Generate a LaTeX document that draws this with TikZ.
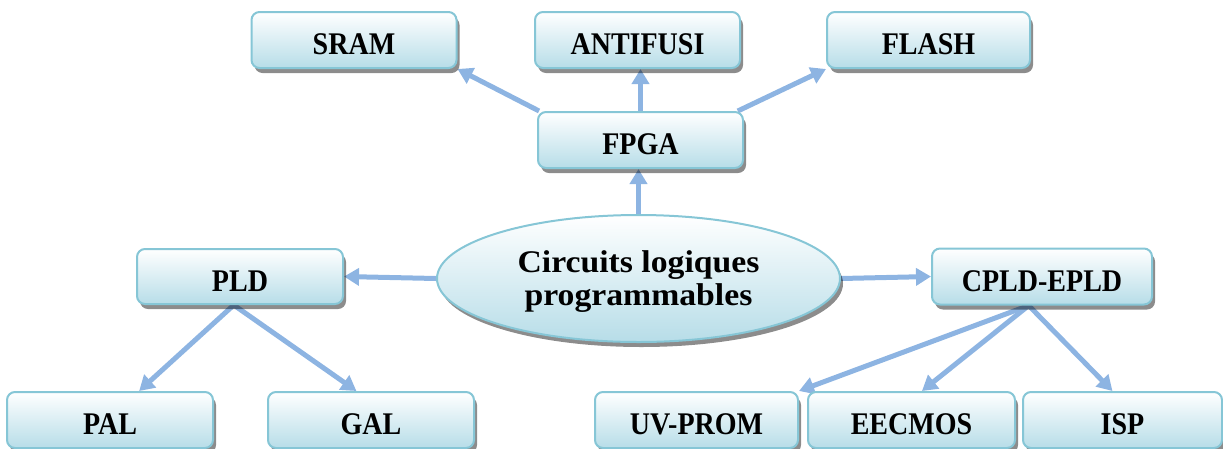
\documentclass[tikz,border=0pt]{standalone}
\usepackage{fontspec}
\setmainfont{Liberation Serif}
\newfontfamily\boxfont{Liberation Serif}[FakeStretch=0.89]
\newfontfamily\hubfont{Liberation Serif}[FakeStretch=1.07]
\usetikzlibrary{arrows.meta,shapes.geometric,shadows,calc,backgrounds}

\definecolor{edgeblue}{HTML}{8DB4E2}
\definecolor{rimblue}{HTML}{86C6D6}
\definecolor{fillblue}{HTML}{B7DDE8}

\begin{document}
\begin{tikzpicture}[x=1pt,y=-1pt,
  softshadow/.style={drop shadow={shadow xshift=3pt, shadow yshift=-5pt, fill=black, opacity=0.45}},
  card/.style={rectangle, rounded corners=8pt, draw=rimblue, line width=2pt,
    top color=white, bottom color=fillblue,
    minimum width=205pt, minimum height=56pt, inner sep=0pt,
    text height=29pt, text depth=0pt,
    font=\boxfont\bfseries\fontsize{31.5}{36}\selectfont, softshadow},
  hubshape/.style={ellipse, draw=rimblue, line width=2pt,
    top color=white, bottom color=fillblue,
    minimum width=403pt, minimum height=127pt, inner sep=0pt,
    align=center, text height=60pt, text depth=7pt,
    font=\hubfont\bfseries\fontsize{31.5}{33}\selectfont, softshadow},
  link/.style={draw=edgeblue, line width=5pt, -{Triangle[length=15pt,width=17pt]}}
]
\useasboundingbox (0,0) rectangle (1223,448);
\begin{scope}
\clip (0,0) rectangle (1223,448);

% top row
\node[card] (sram) at (354,40) {SRAM};
\node[card] (antifusi) at (637.5,40) {ANTIFUSI};
\node[card, minimum width=203pt] (flash) at (928.5,40) {FLASH};

% FPGA
\node[card] (fpga) at (640.5,140) {FPGA};

% central ellipse
\node[hubshape] (hub) at (638.5,278.5) {Circuits logiques\\programmables};

% middle row
\node[card, minimum width=206pt, minimum height=55pt] (pld) at (240,276.5) {PLD};
\node[card, minimum width=220pt] (cpld) at (1042,276.5) {CPLD-EPLD};

% bottom row
\node[card, minimum width=206pt] (pal) at (110,420) {PAL};
\node[card, minimum width=206pt] (gal) at (371,420) {GAL};
\node[card, minimum width=203pt] (uvprom) at (696.5,420) {UV-PROM};
\node[card, minimum width=207pt] (eecmos) at (911.5,420) {EECMOS};
\node[card, minimum width=199pt] (isp) at (1122.5,420) {ISP};

\coordinate (pldfoot) at ($(pld.south west)!0.47!(pld.south east)$);
\coordinate (cpldfoot) at ($(cpld.south west)!0.44!(cpld.south east)$);
\coordinate (fpgaleft) at ($(fpga.north west)!0.01!(fpga.north east)$);
\coordinate (fpgaright) at ($(fpga.north west)!0.97!(fpga.north east)$);
\end{scope}

% connectors behind the boxes
\begin{scope}[on background layer]
\draw[link] (fpgaleft) -- (sram.south east);
\draw[link] (fpga.north) -- (fpga.north |- antifusi.south);
\draw[link] (fpgaright) -- (flash.south west);
\draw[link] (hub.north) -- (hub.north |- fpga.south);
\draw[link] (hub.west) -- (pld.east);
\draw[link] (hub.east) -- (cpld.west);
\draw[link] (pldfoot) -- ($(pal.north west)!0.64!(pal.north east)$);
\draw[link] (pldfoot) -- ($(gal.north west)!0.43!(gal.north east)$);
\draw[link] (cpldfoot) -- (uvprom.north east);
\draw[link] (cpldfoot) -- ($(eecmos.north west)!0.55!(eecmos.north east)$);
\draw[link] (cpldfoot) -- ($(isp.north west)!0.45!(isp.north east)$);
\end{scope}
\end{tikzpicture}
\end{document}
